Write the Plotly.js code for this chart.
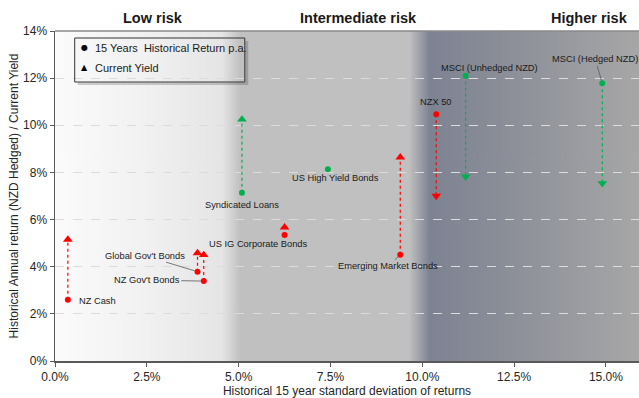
<!DOCTYPE html>
<html>
<head>
<meta charset="utf-8">
<script src="https://cdn.plot.ly/plotly-3.0.1.min.js"></script>
<style>html,body{margin:0;padding:0;background:#fff;}#chart{width:639px;height:398px;}</style>
</head>
<body>
<div id="chart"></div>
<script>
// ---- data ----
const assets = ['NZ Cash', "Global Gov't Bonds", "NZ Gov't Bonds", 'Syndicated Loans', 'US IG Corporate Bonds',
  'US High Yield Bonds', 'Emerging Market Bonds', 'NZX 50', 'MSCI (Unhedged NZD)', 'MSCI (Hedged NZD)'];
const stdDev = [0.35, 3.88, 4.05, 5.09, 6.25, 7.43, 9.40, 10.38, 11.18, 14.90];
const histReturn = [2.60, 3.79, 3.39, 7.14, 5.35, 8.13, 4.51, 10.47, 12.10, 11.78];
const currentYield = [5.15, 4.58, 4.50, 10.25, 5.67, null, 8.64, 7.00, 7.82, 7.54];
const riskBands = ['Low risk', 'Intermediate risk', 'Higher risk'];
const legendLabels = ['15 Years&nbsp; Historical Return p.a.', 'Current Yield'];
const xTickVals = [0, 2.5, 5, 7.5, 10, 12.5, 15];
const yTickVals = [0, 2, 4, 6, 8, 10, 12, 14];

// ---- styles ----
const RED = '#ff0000', GREEN = '#00b050';
const pointColors = [RED, RED, RED, GREEN, RED, GREEN, RED, RED, GREEN, GREEN];
const labelStyle = [
  {xshift: 9, yshift: -1, xanchor: 'left'},
  {arrow: true, ax: -53, ay: -16},
  {arrow: true, ax: -57, ay: -1},
  {xshift: 0, yshift: -12.5},
  {xshift: -26.5, yshift: -9.5},
  {xshift: 8, yshift: -8.5},
  {arrow: true, ax: -12.5, ay: 11.5},
  {xshift: 0, yshift: 11.8},
  {xshift: 23.7, yshift: 8},
  {arrow: true, ax: -7, ay: -24}
];
const FONT = 'Liberation Sans, Arial, sans-serif';
const XMAX = 15.9;

// background gradient image
function makeGradient() {
  const c = document.createElement('canvas');
  c.width = 1590; c.height = 4;
  const g = c.getContext('2d');
  const gr = g.createLinearGradient(0, 0, c.width, 0);
  const stops = [[0, '#fbfbfb'], [2.5, '#f1f1f1'], [4.55, '#e5e5e5'], [5.05, '#c0c0c0'], [9.65, '#c0c0c0'],
    [10.2, '#7e8393'], [12.5, '#8d9099'], [XMAX, '#a7a7a7']];
  stops.forEach(s => gr.addColorStop(s[0] / XMAX, s[1]));
  g.fillStyle = gr; g.fillRect(0, 0, c.width, c.height);
  return c.toDataURL('image/png');
}

const traces = [];
assets.forEach((a, i) => {
  if (currentYield[i] === null) return;
  traces.push({
    type: 'scatter', mode: 'lines', x: [stdDev[i], stdDev[i]], y: [histReturn[i], currentYield[i]],
    line: {color: pointColors[i], width: 1.2, dash: 'dot'}, hoverinfo: 'skip', showlegend: false
  });
});
traces.push({
  type: 'scatter', mode: 'markers', name: 'Current Yield', x: stdDev, y: currentYield,
  marker: {size: 8.5, color: pointColors,
    symbol: currentYield.map((v, i) => v !== null && v < histReturn[i] ? 'triangle-down' : 'triangle-up')},
  showlegend: false, cliponaxis: false
});
traces.push({
  type: 'scatter', mode: 'markers', name: '15 Years Historical Return p.a.', x: stdDev, y: histReturn,
  marker: {size: 6, color: pointColors, symbol: 'circle'}, showlegend: false, cliponaxis: false
});

const annotations = assets.map((a, i) => {
  const s = labelStyle[i];
  const base = {x: stdDev[i], y: histReturn[i], xref: 'x', yref: 'y', text: a,
    font: {family: FONT, size: 9.3, color: '#1a1a1a'}};
  if (s.arrow) {
    return Object.assign(base, {showarrow: true, arrowhead: 0, arrowwidth: 0.8, arrowcolor: '#595959',
      ax: s.ax, ay: s.ay, standoff: 3});
  }
  return Object.assign(base, {showarrow: false, xshift: s.xshift, yshift: s.yshift,
    xanchor: s.xanchor || 'center', yanchor: 'middle'});
});
const bandCenters = [2.67, 8.25, 14.55];
riskBands.forEach((b, i) => annotations.push({
  x: bandCenters[i], xref: 'x', y: 1, yref: 'paper', yshift: 13, yanchor: 'middle', showarrow: false,
  text: '<b>' + b + '</b>', font: {family: FONT, size: 14.5, color: '#1a1a1a'}
}));
// custom legend
const PW = 583.7, PH = 330, L = 55.3, T = 31;
const px = v => (v - L) / PW, py = v => 1 - (v - T) / PH;
['●', '▲'].forEach((sym, i) => annotations.push({
  xref: 'paper', yref: 'paper', x: px(85), y: py(i === 0 ? 47.6 : 67.3), showarrow: false,
  xanchor: 'center', yanchor: 'middle', text: sym, font: {family: 'DejaVu Sans', size: 8, color: '#000'}
}));
legendLabels.forEach((t, i) => annotations.push({
  xref: 'paper', yref: 'paper', x: px(93.5), y: py(i === 0 ? 47.5 : 67.7), showarrow: false,
  xanchor: 'left', yanchor: 'middle', text: t, font: {family: FONT, size: 11, color: '#1a1a1a'}
}));

const shapes = [
  {type: 'rect', xref: 'paper', yref: 'paper', x0: px(245.5), x1: px(248.5), y0: py(85), y1: py(41),
    fillcolor: 'rgba(0,0,0,0.18)', line: {width: 0}},
  {type: 'rect', xref: 'paper', yref: 'paper', x0: px(78), x1: px(245.5), y0: py(85), y1: py(82.5),
    fillcolor: 'rgba(0,0,0,0.18)', line: {width: 0}},
  {type: 'rect', xref: 'paper', yref: 'paper', x0: px(75), x1: px(245), y0: py(82), y1: py(38),
    fillcolor: 'rgba(0,0,0,0)', line: {color: '#333', width: 1}},
  {type: 'line', xref: 'paper', yref: 'paper', x0: 0, x1: 1, y0: 1, y1: 1, line: {color: '#8a8a8a', width: 1.5}}
];

const layout = {
  width: 639, height: 398,
  margin: {l: 55.3, r: 0, t: 31, b: 37},
  paper_bgcolor: '#ffffff', plot_bgcolor: 'rgba(0,0,0,0)',
  font: {family: FONT, color: '#262626'},
  showlegend: false,
  images: [{source: makeGradient(), xref: 'x', yref: 'paper', x: 0, y: 1, sizex: XMAX, sizey: 1,
    sizing: 'stretch', layer: 'below', xanchor: 'left', yanchor: 'top'}],
  xaxis: {range: [0, XMAX], tickvals: xTickVals, ticktext: xTickVals.map(v => v.toFixed(1) + '%'),
    showgrid: false, zeroline: false, showline: true, linecolor: '#595959', linewidth: 1.5,
    ticks: 'outside', ticklen: 4, tickcolor: '#595959', tickfont: {size: 12, color: '#262626'},
    title: {text: 'Historical 15 year standard deviation of returns', font: {size: 12, color: '#262626'}, standoff: 4}},
  yaxis: {range: [0, 14], tickvals: yTickVals, ticktext: yTickVals.map(v => v + '%'),
    showgrid: true, gridcolor: '#dcdcdc', griddash: 'dash', gridwidth: 1,
    zeroline: false, showline: true, linecolor: '#595959', linewidth: 1.5,
    ticks: 'outside', ticklen: 4, tickcolor: '#595959', tickfont: {size: 12, color: '#262626'},
    title: {text: 'Historical Annual return (NZD Hedged) / Current Yield', font: {size: 12, color: '#262626'}, standoff: 2}},
  annotations: annotations,
  shapes: shapes
};
Plotly.newPlot('chart', traces, layout, {displayModeBar: false, staticPlot: true});
</script>
</body>
</html>
